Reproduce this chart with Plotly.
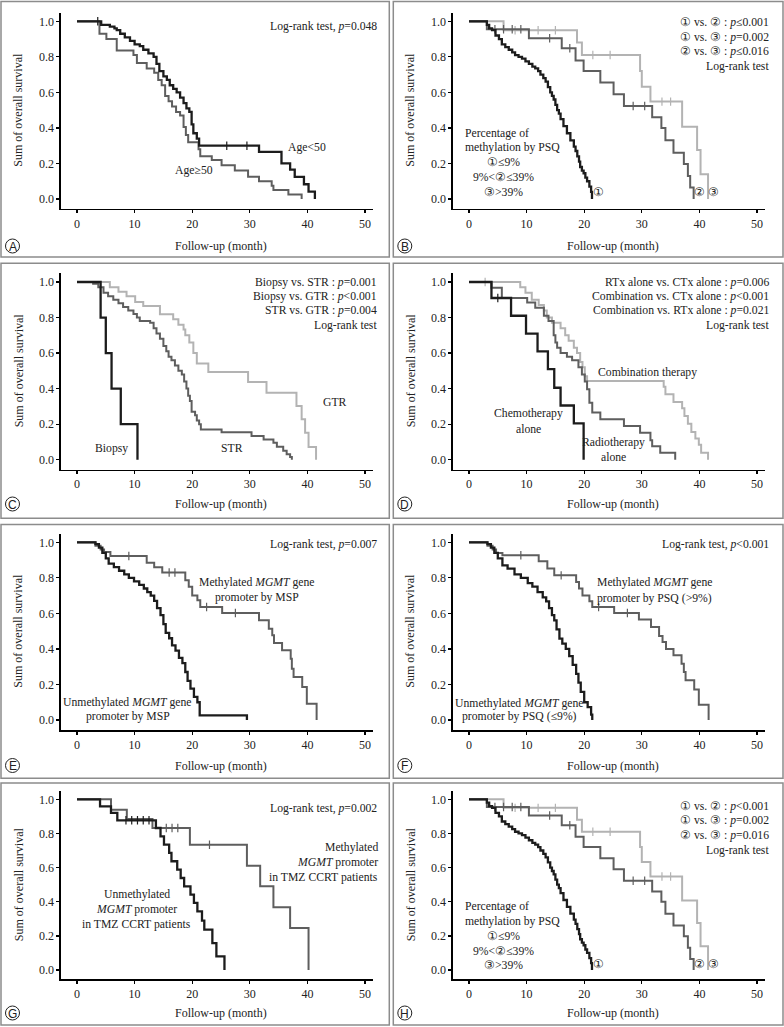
import plotly.graph_objects as go

W, H = 784, 1027
SERIF = "Liberation Serif"
BLACK = "#1c1c1c"
DGRAY = "#5e5e5e"
LGRAY = "#b3b3b3"

# ---------------- data (months, survival) ----------------
# Panel A
A_lt50_t = [0, 4.2, 5.7, 6.5, 6.9, 7.5, 8.3, 9.2, 10.0, 10.9, 11.5, 12.4, 13.3, 13.8, 14.3, 15.0, 15.6, 16.1, 16.7, 17.3,
            17.9, 18.5, 19.0, 19.5, 19.9, 20.2, 20.8, 21.2, 31.6, 35.5, 37.0, 37.8, 39.4, 40.2, 41.3]
A_lt50_s = [1.0, 0.98, 0.97, 0.96, 0.95, 0.93, 0.91, 0.89, 0.87, 0.86, 0.84, 0.82, 0.80, 0.76, 0.72, 0.69, 0.67, 0.64, 0.62, 0.60,
            0.57, 0.54, 0.51, 0.49, 0.42, 0.37, 0.34, 0.30, 0.265, 0.20, 0.165, 0.125, 0.083, 0.041, 0.0]
A_lt50_ct = [3.6, 26.0, 29.5]
A_lt50_cs = [1.0, 0.30, 0.30]
A_ge50_t = [0, 3.9, 5.1, 6.9, 9.8, 10.4, 12.1, 13.4, 14.1, 14.7, 15.3, 15.9, 16.5, 17.2, 17.9, 18.5, 18.9, 19.3, 21.1, 21.4,
            23.4, 25.1, 27.4, 29.7, 31.6, 33.8, 34.1, 36.7, 39.0]
A_ge50_s = [1.0, 0.93, 0.90, 0.835, 0.81, 0.765, 0.735, 0.71, 0.67, 0.64, 0.58, 0.55, 0.52, 0.49, 0.47, 0.405, 0.36, 0.32, 0.28, 0.24,
            0.22, 0.19, 0.16, 0.125, 0.10, 0.075, 0.05, 0.025, 0.0]

# Panel B / H (PSQ three groups)
B1_t = [0, 3.1, 3.5, 4.0, 4.6, 5.2, 5.7, 6.3, 6.9, 7.5, 8.0, 8.6, 9.2, 9.8, 10.4, 11.0, 11.5, 12.0, 12.4, 12.9, 13.3, 13.7,
        14.1, 14.4, 14.7, 15.0, 15.3, 15.6, 15.9, 16.4, 17.0, 17.6, 18.2, 18.5, 18.8, 19.1, 19.3, 19.6, 19.9, 20.2, 20.5,
        20.9, 21.2, 21.35]
B1_s = [1.0, 0.98, 0.96, 0.95, 0.92, 0.90, 0.87, 0.855, 0.84, 0.825, 0.81, 0.80, 0.79, 0.775, 0.76, 0.745, 0.735, 0.72,
        0.70, 0.68, 0.66, 0.63, 0.60, 0.58, 0.56, 0.53, 0.50, 0.48, 0.45, 0.41, 0.37, 0.33, 0.295, 0.27, 0.24, 0.21, 0.18,
        0.16, 0.145, 0.12, 0.10, 0.07, 0.04, 0.0]
B2_t = [0, 3.1, 10.4, 16.1, 18.5, 19.9, 22.8, 25.1, 26.9, 31.8, 33.4, 34.1, 35.5, 37.3, 38.0, 38.4, 39.0]
B2_s = [1.0, 0.955, 0.905, 0.848, 0.78, 0.72, 0.655, 0.59, 0.523, 0.46, 0.40, 0.33, 0.26, 0.197, 0.13, 0.065, 0.0]
B2_ct = [4.5, 6.0, 7.5, 9.0, 14.0, 17.5, 28.5, 30.5]
B2_cs = [0.955, 0.955, 0.955, 0.955, 0.905, 0.848, 0.523, 0.523]
B3_t = [0, 6.0, 18.75, 19.6, 29.7, 30.0, 31.5, 37.0, 39.6, 40.2, 41.5]
B3_s = [1.0, 0.95, 0.88, 0.81, 0.72, 0.632, 0.548, 0.407, 0.276, 0.139, 0.0]
B3_ct = [8.0, 12.0, 15.0, 21.5, 24.5, 33.5, 35.0]
B3_cs = [0.95, 0.95, 0.95, 0.81, 0.81, 0.548, 0.548]

# Panel C (extent of resection)
C_bio_t = [0, 4.1, 5.0, 6.0, 7.6, 10.5]
C_bio_s = [1.0, 0.8, 0.6, 0.4, 0.2, 0.0]
C_str_t = [0, 2.8, 3.7, 4.6, 5.4, 6.3, 7.2, 8.0, 8.9, 9.8, 10.4, 10.9, 12.7, 13.3, 13.8, 14.4, 15.0, 15.5, 15.9, 16.4,
           17.0, 17.6, 18.2, 18.6, 19.0, 19.3, 19.6, 19.9, 20.5, 20.8, 21.2, 21.5, 25.1, 30.3, 32.4, 34.1, 34.7, 35.8,
           36.4, 37.0, 37.3]
C_str_s = [1.0, 0.99, 0.97, 0.94, 0.92, 0.90, 0.88, 0.86, 0.84, 0.82, 0.80, 0.78, 0.77, 0.74, 0.71, 0.68, 0.64, 0.61,
           0.58, 0.56, 0.53, 0.50, 0.48, 0.44, 0.40, 0.36, 0.33, 0.27, 0.25, 0.22, 0.20, 0.17, 0.155, 0.133, 0.114, 0.096,
           0.073, 0.05, 0.03, 0.015, 0.0]
C_gtr_t = [0, 5.7, 7.2, 8.6, 10.1, 11.5, 14.4, 16.7, 17.6, 18.5, 18.8, 19.5, 20.2, 20.8, 22.8, 29.7, 32.9, 38.1, 39.0,
           39.6, 40.2, 41.5]
C_gtr_s = [1.0, 0.97, 0.945, 0.92, 0.887, 0.865, 0.818, 0.79, 0.76, 0.733, 0.70, 0.66, 0.60, 0.542, 0.493, 0.437, 0.377,
           0.302, 0.227, 0.152, 0.071, 0.0]

# Panel D (treatment)
D_chemo_t = [0, 3.9, 7.3, 9.9, 11.9, 13.7, 14.8, 15.9, 18.2, 19.9]
D_chemo_s = [1.0, 0.91, 0.81, 0.71, 0.61, 0.51, 0.405, 0.305, 0.204, 0.0]
D_chemo_ct = [5.0]
D_chemo_cs = [0.91]
D_radio_t = [0, 3.9, 5.7, 10.1, 11.5, 13.0, 13.8, 14.7, 15.0, 15.3, 15.9, 17.0, 17.9, 19.0, 19.6, 20.1, 20.5, 20.9, 21.4,
             22.8, 26.9, 29.7, 31.5, 31.8, 33.2, 35.8]
D_radio_s = [1.0, 0.968, 0.91, 0.884, 0.855, 0.81, 0.78, 0.70, 0.66, 0.63, 0.60, 0.58, 0.56, 0.52, 0.48, 0.44, 0.396,
             0.32, 0.265, 0.227, 0.19, 0.152, 0.109, 0.075, 0.039, 0.0]
D_comb_t = [0, 8.9, 9.8, 10.9, 12.1, 13.0, 13.5, 14.4, 15.9, 16.7, 17.3, 18.2, 18.75, 19.3, 19.7, 20.1, 20.5, 33.8, 34.1,
            35.5, 37.0, 37.4, 38.0, 38.6, 39.3, 39.9, 40.3, 41.5]
D_comb_s = [1.0, 0.97, 0.94, 0.90, 0.87, 0.84, 0.80, 0.77, 0.74, 0.70, 0.67, 0.63, 0.60, 0.55, 0.52, 0.47, 0.443, 0.41,
            0.368, 0.325, 0.29, 0.246, 0.203, 0.156, 0.12, 0.084, 0.039, 0.0]
D_comb_ct = [2.8]
D_comb_cs = [1.0]

# Panel E (MSP)
E_unm_t = [0, 3.2, 3.8, 4.4, 5.0, 5.5, 6.4, 7.3, 8.2, 9.0, 9.9, 10.8, 11.6, 12.2, 12.8, 13.4, 13.9, 14.5, 15.0, 15.4,
           16.0, 16.5, 17.1, 17.7, 18.3, 18.8, 19.2, 19.7, 20.3, 20.9, 21.3, 29.5]
E_unm_s = [1.0, 0.99, 0.97, 0.94, 0.91, 0.88, 0.86, 0.84, 0.82, 0.80, 0.78, 0.76, 0.74, 0.72, 0.70, 0.67, 0.63, 0.59,
           0.54, 0.49, 0.46, 0.42, 0.39, 0.35, 0.32, 0.27, 0.22, 0.176, 0.13, 0.10, 0.026, 0.0]
E_met_t = [0, 3.2, 4.1, 4.7, 5.8, 12.1, 13.4, 14.8, 18.8, 19.4, 20.0, 20.9, 21.4, 25.2, 31.6, 33.3, 33.9, 34.2, 35.6,
           37.1, 37.3, 37.6, 39.1, 39.9, 41.6]
E_met_s = [1.0, 0.98, 0.96, 0.945, 0.923, 0.885, 0.86, 0.83, 0.786, 0.75, 0.70, 0.674, 0.636, 0.602, 0.561, 0.514,
           0.477, 0.433, 0.392, 0.345, 0.289, 0.242, 0.186, 0.092, 0.0]
E_met_ct = [9.0, 16.0, 17.0, 22.5, 27.5]
E_met_cs = [0.923, 0.83, 0.83, 0.636, 0.602]

# Panel F (PSQ two groups)
F_unm_t = [0, 3.2, 3.8, 4.4, 5.0, 5.8, 6.7, 7.9, 9.0, 10.2, 11.0, 11.9, 12.8, 13.4, 13.9, 14.4, 14.8, 15.2, 15.7, 16.2,
           16.8, 17.4, 18.0, 18.6, 19.0, 19.4, 20.0, 20.6, 21.2, 21.4]
F_unm_s = [1.0, 0.99, 0.97, 0.94, 0.91, 0.87, 0.852, 0.82, 0.80, 0.77, 0.75, 0.72, 0.69, 0.668, 0.63, 0.59, 0.561, 0.51,
           0.458, 0.43, 0.40, 0.36, 0.31, 0.26, 0.21, 0.158, 0.10, 0.073, 0.03, 0.0]
F_met_t = [0, 3.2, 4.1, 4.7, 5.8, 12.1, 13.6, 14.8, 18.6, 19.1, 19.7, 20.9, 21.4, 25.2, 29.5, 31.6, 33.0, 33.6, 34.2,
           35.5, 36.9, 37.3, 37.6, 39.1, 39.9, 41.6]
F_met_s = [1.0, 0.98, 0.96, 0.94, 0.927, 0.893, 0.852, 0.814, 0.777, 0.74, 0.70, 0.668, 0.636, 0.602, 0.565, 0.523,
           0.473, 0.439, 0.40, 0.364, 0.317, 0.27, 0.223, 0.171, 0.086, 0.0]
F_met_ct = [9.0, 16.0, 22.5, 27.5]
F_met_cs = [0.927, 0.814, 0.636, 0.602]

# Panel G (TMZ CCRT)
G_unm_t = [0, 4.0, 5.9, 7.0, 13.7, 14.5, 15.1, 16.0, 16.4, 17.4, 18.0, 18.6, 19.7, 20.3, 20.9, 21.7, 22.1, 23.5, 24.2, 25.6]
G_unm_s = [1.0, 0.959, 0.92, 0.877, 0.832, 0.783, 0.734, 0.686, 0.637, 0.588, 0.539, 0.49, 0.441, 0.393, 0.344, 0.289,
           0.236, 0.158, 0.08, 0.0]
G_unm_ct = [8.5, 9.5, 10.5, 11.5, 12.5]
G_unm_cs = [0.877, 0.877, 0.877, 0.877, 0.877]
G_met_t = [0, 5.9, 8.65, 13.1, 19.6, 29.5, 31.8, 34.1, 37.0, 40.2]
G_met_s = [1.0, 0.939, 0.885, 0.832, 0.734, 0.611, 0.49, 0.367, 0.246, 0.0]
G_met_ct = [15.5, 16.5, 17.5, 23.0]
G_met_cs = [0.832, 0.832, 0.832, 0.734]

X_TICKS = [0, 10, 20, 30, 40, 50]
Y_TICKS = [0.0, 0.2, 0.4, 0.6, 0.8, 1.0]
Y_TICK_TEXT = ["0.0", "0.2", "0.4", "0.6", "0.8", "1.0"]
LETTERS = ["A", "B", "C", "D", "E", "F", "G", "H"]

# curves per panel: (t, s, color, width, censor_t, censor_s)
PANELS = [
    [(A_ge50_t, A_ge50_s, DGRAY, 2.0, None, None), (A_lt50_t, A_lt50_s, BLACK, 2.3, A_lt50_ct, A_lt50_cs)],
    [(B3_t, B3_s, LGRAY, 2.0, B3_ct, B3_cs), (B2_t, B2_s, DGRAY, 2.0, B2_ct, B2_cs), (B1_t, B1_s, BLACK, 2.3, None, None)],
    [(C_gtr_t, C_gtr_s, LGRAY, 2.0, None, None), (C_str_t, C_str_s, DGRAY, 2.0, None, None),
     (C_bio_t, C_bio_s, BLACK, 2.3, None, None)],
    [(D_comb_t, D_comb_s, LGRAY, 2.0, D_comb_ct, D_comb_cs), (D_radio_t, D_radio_s, DGRAY, 2.0, None, None),
     (D_chemo_t, D_chemo_s, BLACK, 2.3, D_chemo_ct, D_chemo_cs)],
    [(E_met_t, E_met_s, DGRAY, 2.0, E_met_ct, E_met_cs), (E_unm_t, E_unm_s, BLACK, 2.3, None, None)],
    [(F_met_t, F_met_s, DGRAY, 2.0, F_met_ct, F_met_cs), (F_unm_t, F_unm_s, BLACK, 2.3, None, None)],
    [(G_met_t, G_met_s, DGRAY, 2.0, G_met_ct, G_met_cs), (G_unm_t, G_unm_s, BLACK, 2.3, G_unm_ct, G_unm_cs)],
    [(B3_t, B3_s, LGRAY, 2.0, B3_ct, B3_cs), (B2_t, B2_s, DGRAY, 2.0, B2_ct, B2_cs), (B1_t, B1_s, BLACK, 2.3, None, None)],
]

# ---------------- geometry (pixels) ----------------
ROW_TOP = [12.7, 272.7, 533.7, 791.3]
ROW_XLINE = [209.0, 469.7, 730.3, 979.3]
ROW_Y1 = [21.3, 282.0, 542.3, 799.3]
ROW_Y0 = [199.0, 459.7, 720.0, 970.0]
ROW_TITLE = [246.0, 504.0, 765.5, 1013.0]
COL_OFF = [0.0, 392.0]
YLINE, X0PX, X50PX, XEND = 60.7, 77.0, 365.0, 372.7
BOX_X = [(1.0, 389.3), (393.3, 783.0)]
BOX_Y = [(1.5, 257.0), (263.3, 518.3), (524.5, 778.3), (783.0, 1025.0)]


def px(x):
    return x / W


def py(y):
    return 1 - y / H


fig = go.Figure()
ppm = (X50PX - X0PX) / 50.0
xr = [-(X0PX - YLINE) / ppm, 50 + (XEND - X50PX) / ppm]

layout = dict(width=W, height=H, margin=dict(l=0, r=0, t=0, b=0), showlegend=False,
              plot_bgcolor="white", paper_bgcolor="white")
shapes = []
annotations = []

for i, curves in enumerate(PANELS):
    row, col = i // 2, i % 2
    sfx = "" if i == 0 else str(i + 1)
    xa, ya = "x" + sfx, "y" + sfx
    for (t, s, color, w, ct, cs) in curves:
        fig.add_trace(go.Scatter(x=t, y=s, mode="lines", line=dict(color=color, width=w, shape="hv"),
                                 xaxis=xa, yaxis=ya, hoverinfo="skip"))
        if ct:
            fig.add_trace(go.Scatter(x=ct, y=cs, mode="markers", xaxis=xa, yaxis=ya, hoverinfo="skip",
                                     marker=dict(symbol="line-ns-open", size=6, color=color,
                                                 line=dict(color=color, width=1.2))))
    off = COL_OFF[col]
    unit = ROW_Y0[row] - ROW_Y1[row]
    yr = [-(ROW_XLINE[row] - ROW_Y0[row]) / unit, 1 + (ROW_Y1[row] - ROW_TOP[row]) / unit]
    common = dict(showline=True, linecolor="black", linewidth=1.3, ticks="outside", ticklen=3, tickwidth=1.3,
                  tickcolor="black", showgrid=False, zeroline=False, mirror=False, fixedrange=True,
                  tickfont=dict(family=SERIF, size=12, color="#222"))
    layout["xaxis" + sfx] = dict(domain=[px(off + YLINE), px(off + XEND)], range=xr, anchor=ya,
                                 tickvals=X_TICKS, **common)
    layout["yaxis" + sfx] = dict(domain=[py(ROW_XLINE[row]), py(ROW_TOP[row])], range=yr, anchor=xa,
                                 tickvals=Y_TICKS, ticktext=Y_TICK_TEXT, **common)
    # panel box
    bx0, bx1 = BOX_X[col]
    by0, by1 = BOX_Y[row]
    shapes.append(dict(type="rect", xref="paper", yref="paper", x0=px(bx0), x1=px(bx1), y0=py(by1), y1=py(by0),
                       line=dict(color="#8c8c8c", width=1.5)))
    # circled letter
    cx, cy, r = bx0 + 11.5, ROW_TITLE[row], 7.0
    shapes.append(dict(type="circle", xref="paper", yref="paper", x0=px(cx - r), x1=px(cx + r),
                       y0=py(cy + r), y1=py(cy - r), line=dict(color="#222", width=1)))
    annotations.append(dict(text=LETTERS[i], x=px(cx), y=py(cy + 0.5), xref="paper", yref="paper", showarrow=False,
                            xanchor="center", yanchor="middle",
                            font=dict(family="Liberation Sans", size=12, color="#222")))
    # axis titles
    annotations.append(dict(text="Follow-up (month)", x=px(off + X0PX + 25 * ppm), y=py(ROW_TITLE[row]),
                            xref="paper", yref="paper", showarrow=False, xanchor="center", yanchor="middle",
                            font=dict(family=SERIF, size=12, color="#222")))
    annotations.append(dict(text="Sum of overall survival", x=px(off + 18.5),
                            y=py((ROW_Y0[row] + ROW_Y1[row]) / 2), textangle=-90,
                            xref="paper", yref="paper", showarrow=False, xanchor="center", yanchor="middle",
                            font=dict(family=SERIF, size=12, color="#222")))

# ---------------- panel texts (text, x px, y px, anchor) ----------------
TEXTS = [
    ("Log-rank test, <i>p</i>=0.048", 379, 26.7, "right"),
    ("Age&lt;50", 307.3, 147.7, "center"),
    ("Age≥50", 193.7, 171.0, "center"),
    # B
    ("① vs. ② : <i>p</i>≤0.001", 771, 22.7, "right"),
    ("① vs. ③ : <i>p</i>=0.002", 771, 37.2, "right"),
    ("② vs. ③ : <i>p</i>≤0.016", 771, 51.7, "right"),
    ("Log-rank test", 771, 66.7, "right"),
    ("Percentage of", 463, 133.3, "left"),
    ("methylation by PSQ", 463, 147.7, "left"),
    ("①≤9%", 503.7, 162.7, "center"),
    ("9%&lt;②≤39%", 503.7, 177.7, "center"),
    ("③&gt;39%", 503.7, 192.3, "center"),
    ("①", 598.7, 192.7, "center"),
    ("②", 699.7, 192.7, "center"),
    ("③", 713.7, 192.7, "center"),
    # C
    ("Biopsy vs. STR : <i>p</i>=0.001", 379, 282.0, "right"),
    ("Biopsy vs. GTR : <i>p</i>&lt;0.001", 379, 296.3, "right"),
    ("STR vs. GTR : <i>p</i>=0.004", 379, 310.6, "right"),
    ("Log-rank test", 379, 325.5, "right"),
    ("GTR", 335, 402.7, "center"),
    ("Biopsy", 111.7, 448.7, "center"),
    ("STR", 231.7, 448.7, "center"),
    # D
    ("RTx alone vs. CTx alone : <i>p</i>=0.006", 771, 282.0, "right"),
    ("Combination vs. CTx alone : <i>p</i>&lt;0.001", 771, 296.3, "right"),
    ("Combination vs. RTx alone : <i>p</i>=0.021", 771, 310.6, "right"),
    ("Log-rank test", 771, 325.5, "right"),
    ("Combination therapy", 647, 372.0, "center"),
    ("Chemotherapy", 528, 413.0, "center"),
    ("alone", 528, 429.5, "center"),
    ("Radiotherapy", 613.7, 442.7, "center"),
    ("alone", 613.7, 457.7, "center"),
    # E
    ("Log-rank test, <i>p</i>=0.007", 379, 544.3, "right"),
    ("Methylated <i>MGMT</i> gene", 257.3, 582.0, "center"),
    ("promoter by MSP", 257.3, 597.0, "center"),
    ("Unmethylated <i>MGMT</i> gene", 127.7, 702.0, "center"),
    ("promoter by MSP", 127.7, 716.0, "center"),
    # F
    ("Log-rank test, <i>p</i>&lt;0.001", 771, 544.3, "right"),
    ("Methylated <i>MGMT</i> gene", 654.7, 582.7, "center"),
    ("promoter by PSQ (&gt;9%)", 654.7, 598.0, "center"),
    ("Unmethylated <i>MGMT</i> gene", 519.7, 703.7, "center"),
    ("promoter by PSQ (≤9%)", 519.7, 716.5, "center"),
    # G
    ("Log-rank test, <i>p</i>=0.002", 379, 808.0, "right"),
    ("Methylated", 380, 847.3, "right"),
    ("<i>MGMT</i> promoter", 380, 862.3, "right"),
    ("in TMZ CCRT patients", 380, 877.3, "right"),
    ("Unmethylated", 136.7, 894.7, "center"),
    ("<i>MGMT</i> promoter", 136.7, 909.7, "center"),
    ("in TMZ CCRT patients", 136.7, 924.7, "center"),
    # H
    ("① vs. ② : <i>p</i>&lt;0.001", 771, 806.3, "right"),
    ("① vs. ③ : <i>p</i>=0.002", 771, 820.7, "right"),
    ("② vs. ③ : <i>p</i>=0.016", 771, 835.3, "right"),
    ("Log-rank test", 771, 850.7, "right"),
    ("Percentage of", 463, 906.3, "left"),
    ("methylation by PSQ", 463, 921.3, "left"),
    ("①≤9%", 503.7, 936.3, "center"),
    ("9%&lt;②≤39%", 503.7, 951.3, "center"),
    ("③&gt;39%", 503.7, 965.7, "center"),
    ("①", 598.7, 964.7, "center"),
    ("②", 699.7, 964.7, "center"),
    ("③", 713.7, 964.7, "center"),
]
for txt, x, y, anc in TEXTS:
    annotations.append(dict(text=txt, x=px(x), y=py(y), xref="paper", yref="paper", showarrow=False,
                            xanchor=anc, yanchor="middle", font=dict(family=SERIF, size=11.7, color="#222")))

layout["shapes"] = shapes
layout["annotations"] = annotations
fig.update_layout(**layout)
fig.write_html("out.html", config={"displayModeBar": False, "staticPlot": True},
               post_script="document.body.style.margin='0px';document.body.style.overflow='hidden';")
